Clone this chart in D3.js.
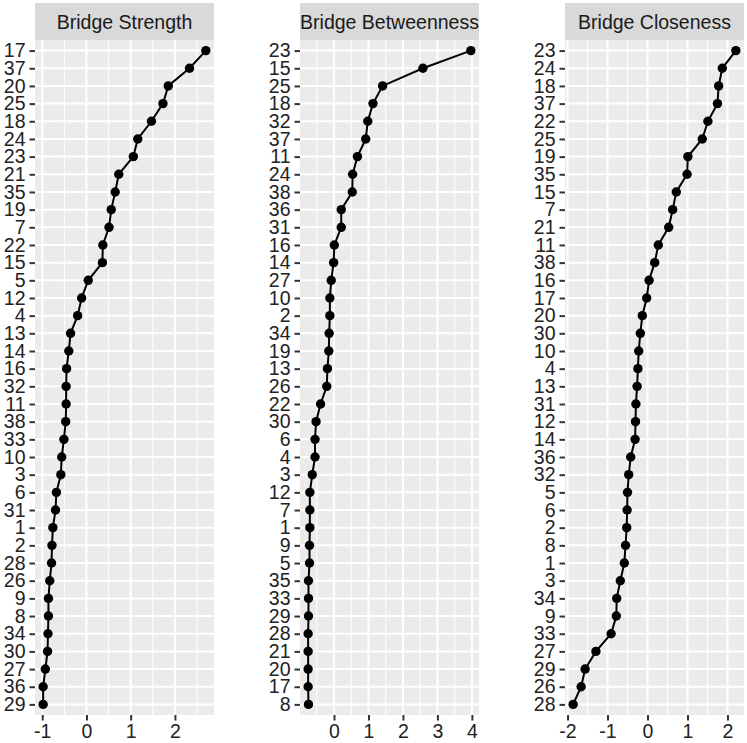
<!DOCTYPE html>
<html>
<head>
<meta charset="utf-8">
<script src="https://cdn.jsdelivr.net/npm/d3@7"></script>
<style>
  html, body { margin: 0; padding: 0; background: #ffffff; }
  svg { display: block; }
  text { font-family: "Liberation Sans", Arial, Helvetica, sans-serif; }
</style>
</head>
<body>
<svg id="chart" width="747" height="743"></svg>
<script>
// ---------- DATA (top-to-bottom order as displayed) ----------
const panelTitles = ["Bridge Strength", "Bridge Betweenness", "Bridge Closeness"];

const strengthNodes = ["17","37","20","25","18","24","23","21","35","19","7","22","15","5","12","4","13","14","16","32","11","38","33","10","3","6","31","1","2","28","26","9","8","34","30","27","36","29"];
const strengthValues = [2.70,2.33,1.85,1.73,1.47,1.16,1.06,0.73,0.65,0.56,0.51,0.37,0.36,0.04,-0.11,-0.20,-0.36,-0.40,-0.45,-0.46,-0.46,-0.47,-0.51,-0.56,-0.58,-0.68,-0.70,-0.76,-0.78,-0.79,-0.83,-0.86,-0.86,-0.87,-0.88,-0.93,-0.98,-0.98];

const betweennessNodes = ["23","15","25","18","32","37","11","24","38","36","31","16","14","27","10","2","34","19","13","26","22","30","6","4","3","12","7","1","9","5","35","33","29","28","21","20","17","8"];
const betweennessValues = [3.97,2.58,1.41,1.13,0.98,0.92,0.68,0.54,0.53,0.21,0.21,0.01,-0.01,-0.08,-0.12,-0.12,-0.14,-0.15,-0.19,-0.21,-0.39,-0.52,-0.55,-0.55,-0.63,-0.70,-0.70,-0.70,-0.71,-0.71,-0.74,-0.74,-0.74,-0.75,-0.75,-0.75,-0.75,-0.74];

const closenessNodes = ["23","24","18","37","22","25","19","35","15","7","21","11","38","16","17","20","30","10","4","13","31","12","14","36","32","5","6","2","8","1","3","34","9","33","27","29","26","28"];
const closenessValues = [2.21,1.87,1.78,1.75,1.51,1.37,1.01,0.99,0.72,0.63,0.53,0.27,0.18,0.04,-0.02,-0.13,-0.18,-0.22,-0.24,-0.26,-0.29,-0.30,-0.31,-0.42,-0.47,-0.50,-0.51,-0.52,-0.55,-0.58,-0.68,-0.77,-0.78,-0.91,-1.29,-1.56,-1.66,-1.86];

const strengthTicks = [-1, 0, 1, 2];
const betweennessTicks = [0, 1, 2, 3, 4];
const closenessTicks = [-2, -1, 0, 1, 2];

const panels = [
  { title: panelTitles[0], nodes: strengthNodes, values: strengthValues, ticks: strengthTicks },
  { title: panelTitles[1], nodes: betweennessNodes, values: betweennessValues, ticks: betweennessTicks },
  { title: panelTitles[2], nodes: closenessNodes, values: closenessValues, ticks: closenessTicks }
];

// ---------- LAYOUT ----------
const panelLefts = [35, 300, 565];
const panelW = 179;
const stripTop = 3, panelTop = 40, panelBottom = 715;
const fontSize = 19.5;
const textColor = "#222222";

const svg = d3.select("#chart");

panels.forEach((p, i) => {
  const x0 = panelLefts[i];
  const g = svg.append("g").attr("transform", `translate(${x0},0)`);

  const ext = d3.extent(p.values);
  const pad = (ext[1] - ext[0]) * 0.05;
  const x = d3.scaleLinear().domain([ext[0] - pad, ext[1] + pad]).range([0, panelW]);
  const y = d3.scalePoint().domain(p.nodes).range([panelTop, panelBottom]).padding(0.6);

  // strip
  g.append("rect").attr("x", 0).attr("y", stripTop).attr("width", panelW)
    .attr("height", panelTop - stripTop).attr("fill", "#D9D9D9");
  g.append("text").attr("x", panelW / 2).attr("y", (stripTop + panelTop) / 2)
    .attr("dy", "0.36em").attr("text-anchor", "middle")
    .attr("font-size", fontSize).attr("fill", "#1A1A1A").text(p.title);

  // panel background
  g.append("rect").attr("x", 0).attr("y", panelTop).attr("width", panelW)
    .attr("height", panelBottom - panelTop).attr("fill", "#EBEBEB");

  // minor grid (midpoints)
  const dom = x.domain();
  const minor = [];
  for (let k = 0; k < p.ticks.length + 1; k++) {
    const v = p.ticks[0] - 0.5 + k;
    if (v > dom[0] && v < dom[1]) minor.push(v);
  }
  g.selectAll(".minor").data(minor).enter().append("line")
    .attr("x1", d => x(d)).attr("x2", d => x(d))
    .attr("y1", panelTop).attr("y2", panelBottom)
    .attr("stroke", "#ffffff").attr("stroke-width", 1);

  // major grid
  g.selectAll(".majorx").data(p.ticks).enter().append("line")
    .attr("x1", d => x(d)).attr("x2", d => x(d))
    .attr("y1", panelTop).attr("y2", panelBottom)
    .attr("stroke", "#ffffff").attr("stroke-width", 2);
  g.selectAll(".majory").data(p.nodes).enter().append("line")
    .attr("x1", 0).attr("x2", panelW)
    .attr("y1", d => y(d)).attr("y2", d => y(d))
    .attr("stroke", "#ffffff").attr("stroke-width", 2);

  // line + points
  const pts = p.nodes.map((n, j) => ({ n, v: p.values[j] }));
  g.append("path").datum(pts)
    .attr("d", d3.line().x(d => x(d.v)).y(d => y(d.n)))
    .attr("fill", "none").attr("stroke", "#000000").attr("stroke-width", 2);
  g.selectAll(".pt").data(pts).enter().append("circle")
    .attr("cx", d => x(d.v)).attr("cy", d => y(d.n)).attr("r", 4.7)
    .attr("fill", "#000000");

  // axes
  const xAxis = d3.axisBottom(x).tickValues(p.ticks).tickSize(5.5).tickPadding(4)
    .tickFormat(d => d < 0 ? "-" + Math.abs(d) : String(d));
  const gx = g.append("g").attr("transform", `translate(0,${panelBottom})`).call(xAxis);
  const yAxis = d3.axisLeft(y).tickSize(5.5).tickPadding(4);
  const gy = g.append("g").call(yAxis);
  [gx, gy].forEach(ax => {
    ax.select(".domain").remove();
    ax.selectAll(".tick line").attr("stroke", "#333333").attr("stroke-width", 2);
    ax.selectAll(".tick text").attr("font-size", fontSize).attr("fill", textColor)
      .style("font-family", '"Liberation Sans", Arial, sans-serif');
  });
});
</script>
</body>
</html>
